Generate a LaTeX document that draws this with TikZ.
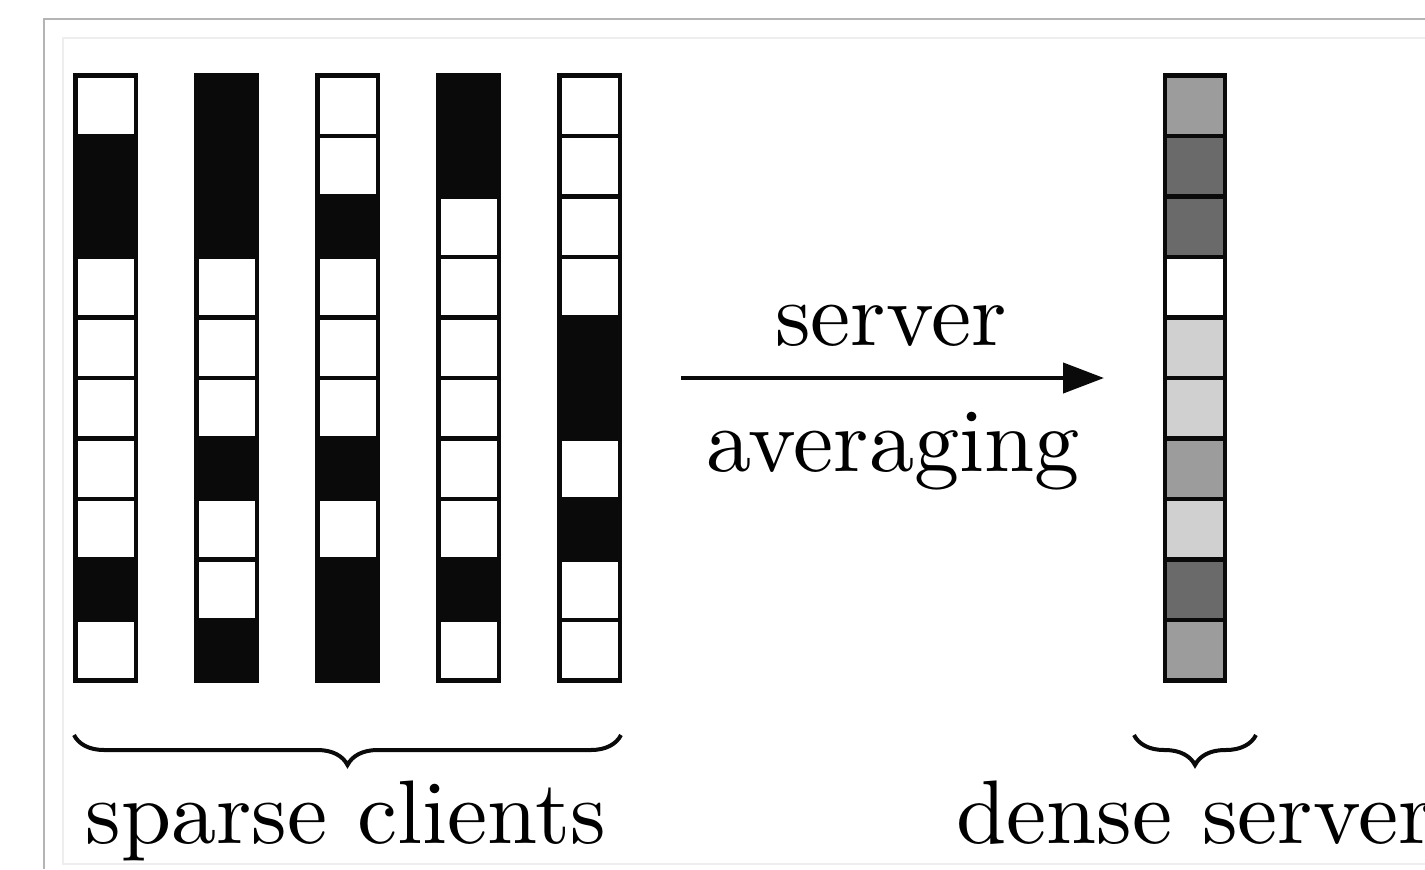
\documentclass[tikz,border=0pt]{standalone}
\usepackage{fontspec}
\setmainfont{lmroman10-regular}[Extension=.otf]
\usetikzlibrary{arrows.meta,decorations.pathreplacing}
\definecolor{cellblack}{HTML}{0A0A0A}
\definecolor{cellmid}{HTML}{9C9C9C}
\definecolor{celldark}{HTML}{6A6A6A}
\definecolor{celllight}{HTML}{D0D0D0}
\definecolor{frameouter}{HTML}{B4B4B4}
\definecolor{frameinner}{HTML}{EEEEEE}
\tikzset{
  cellbox/.style={draw=cellblack, line width=3.2pt, rectangle, inner sep=0pt,
    minimum width=45.375pt, minimum height=45.375pt},
  cW/.style={cellbox, fill=white},
  cB/.style={cellbox, fill=cellblack},
  cL/.style={cellbox, fill=celllight},
  cM/.style={cellbox, fill=cellmid},
  cD/.style={cellbox, fill=celldark},
  lbl/.style={inner sep=0pt, font=\fontsize{67.7}{80}\selectfont},
  bracestyle/.style={decorate, decoration={brace, amplitude=22.5pt}, line width=3pt, draw=cellblack},
  arrowstyle/.style={line width=3.2pt, draw=cellblack, -{Triangle[length=30.75pt,width=22.5pt]}}
}
\begin{document}
\begin{tikzpicture}[x=0.75pt,y=-0.75pt]
\useasboundingbox (0,0) rectangle (1425,869);
\clip (0,0) rectangle (1425,869);
% frame
\draw[frameouter, line width=1.2pt] (44,869) -- (44,19) -- (1430,19);
\draw[frameinner, line width=0.8pt] (1430,864) -- (63,864) -- (63,38) -- (1430,38);
% client columns
\foreach \col/\pattern [count=\i from 0] in {
  a/{W,B,B,W,W,W,W,W,B,W},
  b/{B,B,B,W,W,W,B,W,W,B},
  c/{W,W,B,W,W,W,B,W,B,B},
  d/{B,B,W,W,W,W,W,W,B,W},
  e/{W,W,W,W,B,B,W,B,W,W}}{
  \foreach \t [count=\j from 0] in \pattern {
    \node[c\t] (cell-\col-\j) at ({105.75+121*\i},{105.75+60.5*\j}) {};
  }
}
% server column
\foreach \t [count=\j from 0] in {M,D,D,W,L,L,M,L,D,M}{
  \node[c\t] (srv-\j) at (1194.95,{105.75+60.5*\j}) {};
}
% arrow
\coordinate (arrS) at (681,378);
\coordinate (arrE) at (1104,378);
\draw[arrowstyle] (arrS) -- (arrE);
\node[lbl, anchor=base] (serverlbl) at (891,345) {server};
\node[lbl, anchor=base] (avglbl) at (893,471) {averaging};
% braces
\coordinate (bl1) at (621,735);
\coordinate (bl2) at (74,735);
\coordinate (br1) at (1256,735);
\coordinate (br2) at (1134,735);
\draw[bracestyle] (bl1) -- (bl2);
\draw[bracestyle] (br1) -- (br2);
\node[lbl, anchor=base] (clientslbl) at (346,843) {sparse clients};
\node[lbl, anchor=base] (denselbl) at (1195,843) {dense server};
\end{tikzpicture}
\end{document}
